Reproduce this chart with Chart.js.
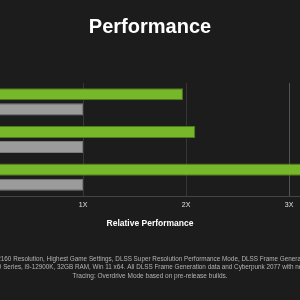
<!DOCTYPE html>
<html>
<head>
<meta charset="utf-8">
<script src="https://cdn.jsdelivr.net/npm/chart.js@4"></script>
<style>
  html, body { margin: 0; padding: 0; background: #1c1c1c; overflow: hidden; }
  #wrap { position: relative; width: 300px; height: 300px; overflow: hidden; }
  #chart { position: absolute; left: -120px; top: 0; }
</style>
</head>
<body>
<div id="wrap">
  <canvas id="chart" width="540" height="300"></canvas>
</div>
<script>
// categories (labels sit off the visible crop)
const games = ['Microsoft Flight Simulator', 'A Plague Tale: Requiem', 'Cyberpunk 2077 RT: Overdrive'];
const dlssValues = [1.97, 2.09, 3.6];
const nativeValues = [1, 1, 1];
const tickSuffix = 'X';
const footnote = [
  '3840x2160 Resolution, Highest Game Settings, DLSS Super Resolution Performance Mode, DLSS Frame Generation on',
  'RTX 40 Series, i9-12900K, 32GB RAM, Win 11 x64. All DLSS Frame Generation data and Cyberpunk 2077 with new Ray',
  'Tracing: Overdrive Mode based on pre-release builds.'
];

const font = '"Liberation Sans", Arial, sans-serif';

const ctx = document.getElementById('chart').getContext('2d');
new Chart(ctx, {
  type: 'bar',
  data: {
    labels: games,
    datasets: [{
      label: 'DLSS 3',
      data: dlssValues,
      backgroundColor: '#76b82a',
      borderColor: '#4c7a1c',
      borderWidth: 1,
      borderSkipped: false
    }, {
      label: 'Native',
      data: nativeValues,
      backgroundColor: '#9b9b9b',
      borderColor: '#7a7a7a',
      borderWidth: 1,
      borderSkipped: false
    }]
  },
  options: {
    indexAxis: 'y',
    responsive: false,
    animation: false,
    layout: { padding: { left: 100, right: 100, top: 0, bottom: 0 } },
    datasets: { bar: { categoryPercentage: 0.8, barPercentage: 0.8 } },
    scales: {
      x: {
        min: 0,
        max: 3.3,
        afterBuildTicks: axis => { axis.ticks = axis.ticks.filter(t => Number.isInteger(t.value)); },
        ticks: {
          stepSize: 1,
          color: '#e0e0e0',
          font: { family: font, size: 7 },
          padding: 5,
          callback: v => v + tickSuffix
        },
        grid: {
          drawTicks: false,
          color: c => (c.tick && c.tick.value === 3) ? '#555555' : '#363636'
        },
        border: { display: true, color: '#444444', width: 1 },
        title: {
          display: true,
          text: 'Relative Performance',
          color: '#ffffff',
          font: { family: font, size: 8.5, weight: 'bold' },
          padding: { top: 4.5, bottom: 25.55 }
        }
      },
      y: {
        display: false
      }
    },
    plugins: {
      legend: { display: false },
      tooltip: { enabled: false },
      title: {
        display: true,
        text: 'Performance',
        color: '#ffffff',
        font: { family: font, size: 20, weight: 'bold' },
        padding: { top: 15, bottom: 44 }
      },
      subtitle: {
        display: true,
        position: 'bottom',
        text: footnote,
        color: '#b4b4b4',
        font: { family: font, size: 6.5, lineHeight: 1.3 },
        padding: { top: 0, bottom: 20 }
      }
    }
  }
});
</script>
</body>
</html>
